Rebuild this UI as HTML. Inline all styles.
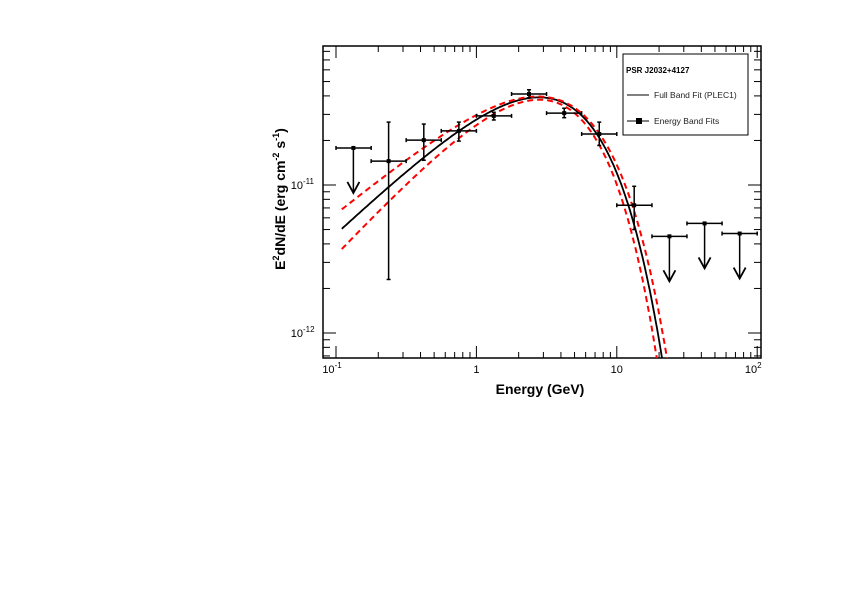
<!DOCTYPE html>
<html><head><meta charset="utf-8"><style>
html,body{margin:0;background:#fff;width:842px;height:595px;overflow:hidden;}
svg{display:block;font-family:"Liberation Sans",Arial,sans-serif;}
</style></head><body>
<svg width="842" height="595" viewBox="0 0 842 595">
<defs><clipPath id="pc"><rect x="323" y="46" width="438" height="312"/></clipPath></defs>
<rect x="323" y="46" width="438" height="312" fill="none" stroke="#000" stroke-width="1.5"/>
<g id="ticks"></g>
<g id="curves" clip-path="url(#pc)"></g>
<g id="pts"></g>
<g id="labels" font-size="11"></g>
<text x="540" y="394" font-size="14" font-weight="bold" text-anchor="middle">Energy (GeV)</text>
<text transform="translate(285,199) rotate(-90)" font-size="14" font-weight="bold" text-anchor="middle">E<tspan font-size="9" dy="-6">2</tspan><tspan dy="6">dN/dE (erg cm</tspan><tspan font-size="9" dy="-6">-2</tspan><tspan dy="6"> s</tspan><tspan font-size="9" dy="-6">-1</tspan><tspan dy="6">)</tspan></text>
<g>
<rect x="623" y="54" width="125" height="81" fill="#fff" stroke="#000" stroke-width="1"/>
<text x="626" y="73" font-size="8" font-weight="bold">PSR J2032+4127</text>
<line x1="627" y1="95" x2="649" y2="95" stroke="#000" stroke-width="1"/>
<text x="654" y="98" font-size="8.5" fill="#222">Full Band Fit (PLEC1)</text>
<line x1="627" y1="121" x2="649" y2="121" stroke="#000" stroke-width="1"/>
<rect x="636" y="118" width="6" height="6" fill="#000"/>
<text x="654" y="124" font-size="8.5" fill="#222">Energy Band Fits</text>
</g>
<script>
const binLo=[0.1,0.178,0.316,0.562,1,1.78,3.16,5.62,10,17.8,31.6,56.2];
const binHi=[0.178,0.316,0.562,1,1.78,3.16,5.62,10,17.8,31.6,56.2,100];
const binE=[0.133,0.237,0.422,0.75,1.33,2.37,4.22,7.5,13.3,23.7,42.2,75];
const flux=[1.78e-11,1.45e-11,2.01e-11,2.32e-11,2.93e-11,4.12e-11,3.06e-11,2.21e-11,0.73e-11,0.45e-11,0.55e-11,0.47e-11];
const fluxHi=[0,2.66e-11,2.58e-11,2.66e-11,3.1e-11,4.4e-11,3.3e-11,2.66e-11,0.98e-11,0,0,0];
const fluxLo=[0,0.23e-11,1.47e-11,1.98e-11,2.75e-11,3.88e-11,2.85e-11,1.85e-11,0.50e-11,0,0,0];
const isUL=[1,0,0,0,0,0,0,0,0,1,1,1];
const fitK=[3.82e-11,3.95e-11,3.65e-11];
const fitIdx=[0.9,0.78,1.02];
const fitEc=[3.1,3.5,2.75];
const xTicks=[0.1,1,10,100];
const xTickLab=["10","1","10","10"];
const xTickExp=["-1","","","2"];
const yTicks=[1e-12,1e-11];
const yTickExp=["-12","-11"];
const X=e=>336+140.4*Math.log10(e/0.1);
const Y=f=>185-148*Math.log10(f/1e-11);
const NS="http://www.w3.org/2000/svg";
function mk(p,t,a){const el=document.createElementNS(NS,t);for(const k in a)el.setAttribute(k,a[k]);p.appendChild(el);return el;}
const tk=document.getElementById('ticks');
for(let d=-1;d<=2;d++)for(let m=1;m<10;m++){const e=m*Math.pow(10,d);if(e>105)continue;const x=X(e);if(x<323||x>761)continue;const L=m==1?12:6;
const a=mk(tk,'line',{x1:x,y1:358,x2:x,y2:358-L,stroke:'#000','stroke-width':1});

const b=mk(tk,'line',{x1:x,y1:46,x2:x,y2:46+L,stroke:'#000','stroke-width':1});
}
for(let d=-13;d<=-10;d++)for(let m=1;m<10;m++){const f=m*Math.pow(10,d);const y=Y(f);if(y<46||y>358)continue;const L=m==1?13:7;
const a=mk(tk,'line',{x1:323,y1:y,x2:323+L,y2:y,stroke:'#000','stroke-width':1});

const b=mk(tk,'line',{x1:761,y1:y,x2:761-L,y2:y,stroke:'#000','stroke-width':1});
}
const lb=document.getElementById('labels');
xTicks.forEach((e,i)=>{const t=mk(lb,'text',{x:X(e)-(xTickExp[i]?4:0),y:373,'text-anchor':'middle'});

t.textContent=xTickLab[i];if(xTickExp[i]){const s=mk(t,'tspan',{'font-size':8,dy:-5});s.textContent=xTickExp[i];}});
yTicks.forEach((f,i)=>{const t=mk(lb,'text',{x:303,y:Y(f)+4,'text-anchor':'end'});

t.textContent='10';const s=mk(lb,'text',{x:303,y:Y(f)-1,'font-size':8});s.textContent=yTickExp[i];
});
const cg=document.getElementById('curves');
fitK.forEach((K,i)=>{let d='';for(let j=0;j<=300;j++){const e=0.11*Math.pow(10,j*2.6/300);const f=K*Math.pow(e,fitIdx[i])*Math.exp(-e/fitEc[i]);d+=(j?'L':'M')+X(e).toFixed(1)+','+Y(f).toFixed(1);}
const p=mk(cg,'path',{d:d,fill:'none',stroke:i?'#f00':'#000','stroke-width':i?2:1.8,'stroke-dasharray':i?'6,4':'none'});
});
const pg=document.getElementById('pts');
flux.forEach((f,i)=>{const g=mk(pg,'g',{stroke:'#000','stroke-width':1.5,fill:'none'});

const x=X(binE[i]),y=Y(f),x0=X(binLo[i]),x1=X(binHi[i]);
mk(g,'line',{x1:x0,y1:y,x2:x1,y2:y});mk(g,'line',{x1:x0,y1:y-2,x2:x0,y2:y+2});mk(g,'line',{x1:x1,y1:y-2,x2:x1,y2:y+2});
if(isUL[i]){const ye=y+45;mk(g,'line',{x1:x,y1:y,x2:x,y2:ye});mk(g,'path',{d:`M${x-6},${ye-11}L${x},${ye}L${x+6},${ye-11}`,'stroke-width':1.8});}
else{const yh=Y(fluxHi[i]),yl=Y(fluxLo[i]);mk(g,'line',{x1:x,y1:yh,x2:x,y2:yl});mk(g,'line',{x1:x-2,y1:yh,x2:x+2,y2:yh});mk(g,'line',{x1:x-2,y1:yl,x2:x+2,y2:yl});}
mk(g,'rect',{x:x-2,y:y-2,width:4,height:4,fill:'#000',stroke:'none'});});
</script>
</svg>
</body></html>
